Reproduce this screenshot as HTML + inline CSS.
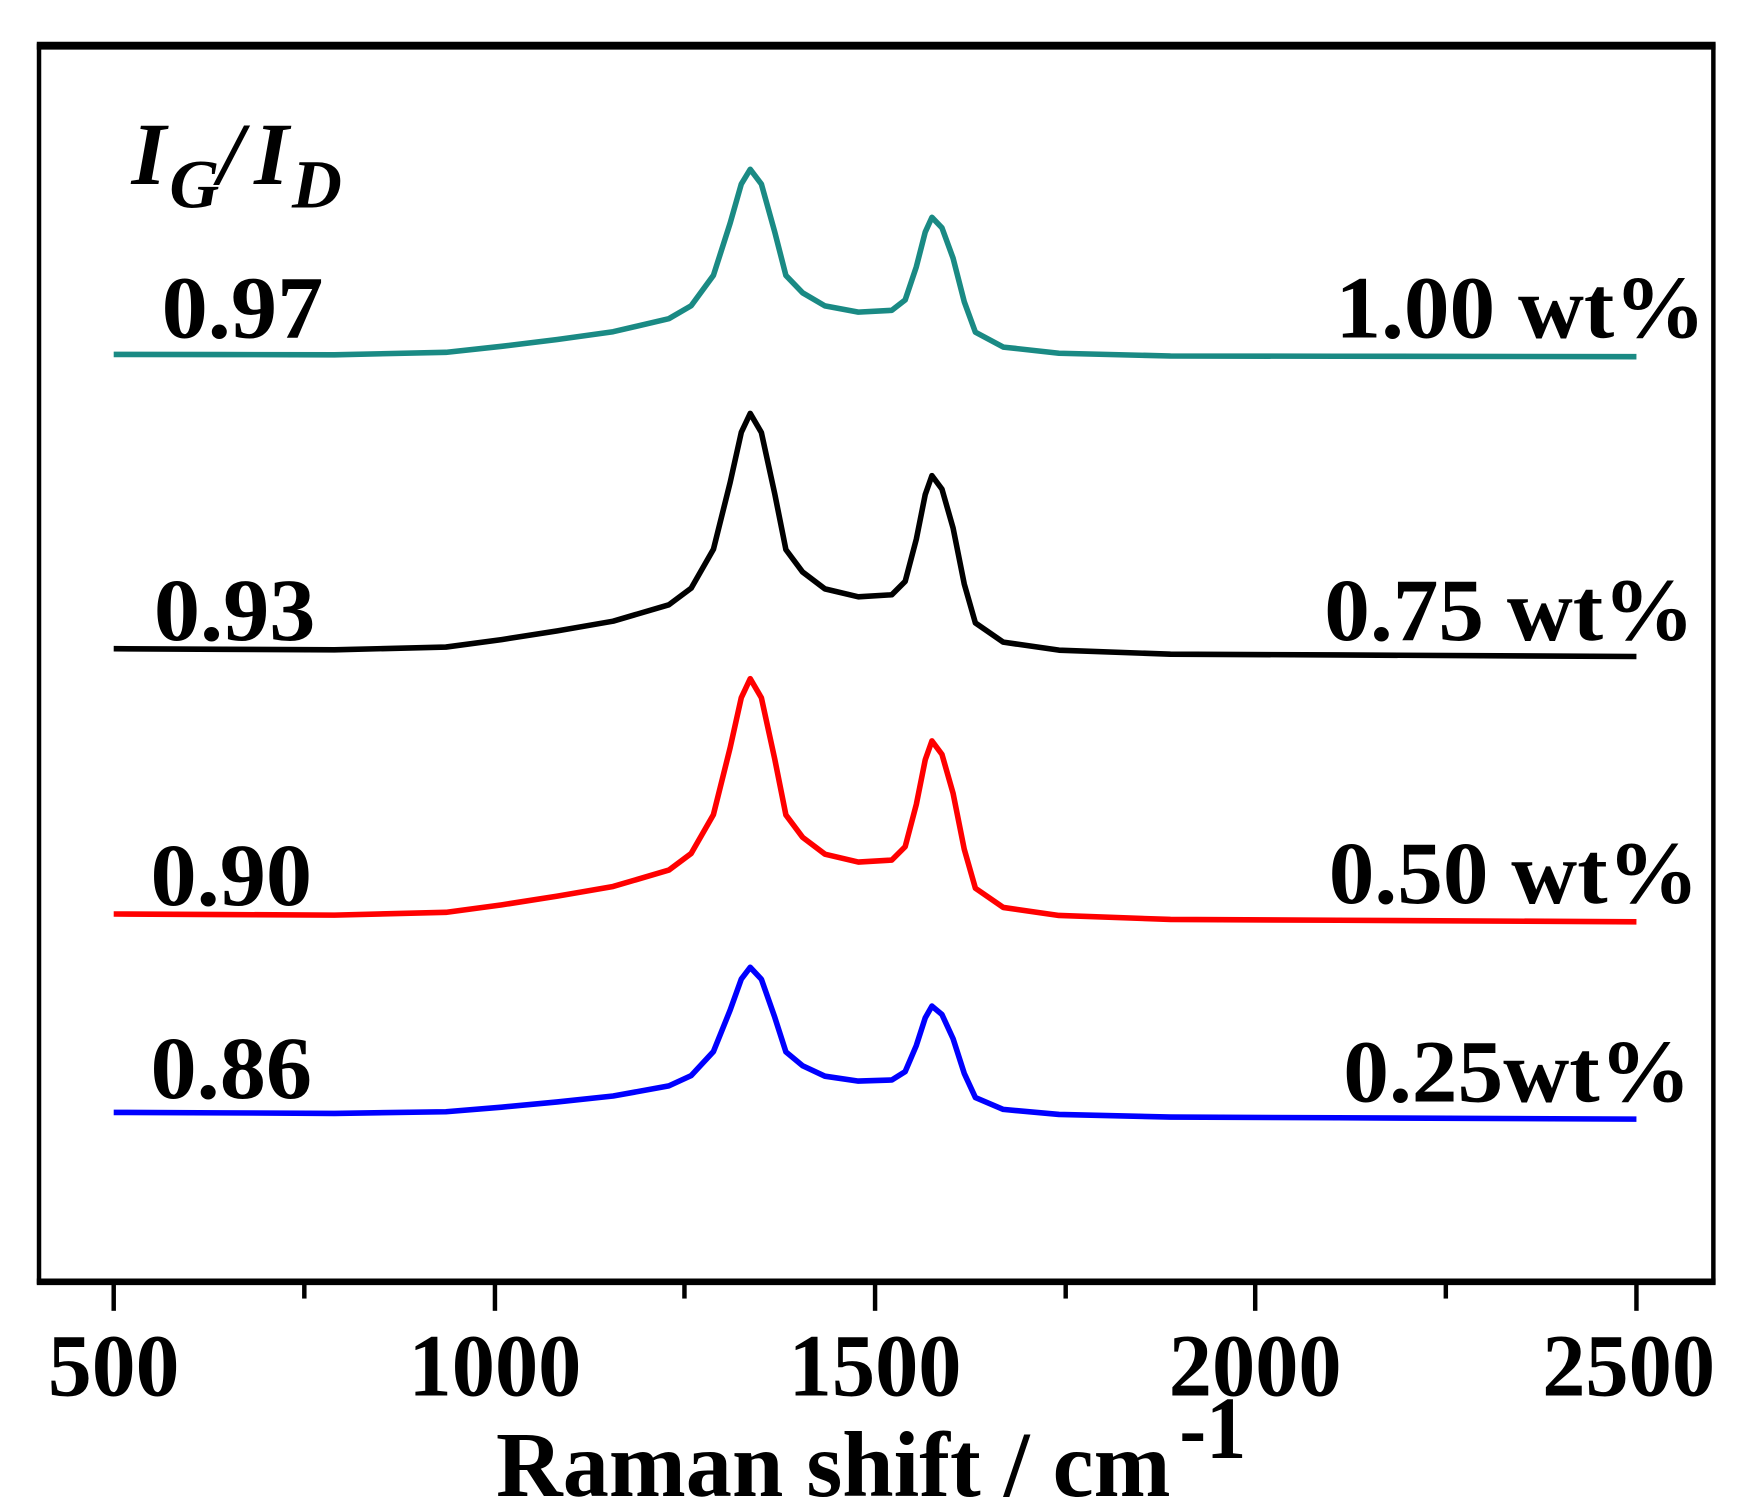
<!DOCTYPE html>
<html><head><style>html,body{margin:0;padding:0;background:#fff}svg{display:block}</style></head>
<body>
<svg width="1739" height="1507" viewBox="0 0 1560 1352" preserveAspectRatio="none" xmlns="http://www.w3.org/2000/svg" font-family="Liberation Serif, serif" font-weight="bold">
<rect x="0" y="0" width="1560" height="1352" fill="#fff"/>
<rect x="35" y="41" width="1502" height="1109" fill="none" stroke="#000" stroke-width="4"/>
<line x1="33" y1="41" x2="1539" y2="41" stroke="#000" stroke-width="7"/>
<line x1="33" y1="1150" x2="1539" y2="1150" stroke="#000" stroke-width="6"/>
<g stroke="#000" stroke-width="4">
<line x1="102" y1="1150" x2="102" y2="1176"/><line x1="273" y1="1150" x2="273" y2="1165"/>
<line x1="444" y1="1150" x2="444" y2="1176"/><line x1="614" y1="1150" x2="614" y2="1165"/>
<line x1="785" y1="1150" x2="785" y2="1176"/><line x1="956" y1="1150" x2="956" y2="1165"/>
<line x1="1126" y1="1150" x2="1126" y2="1176"/><line x1="1297" y1="1150" x2="1297" y2="1165"/>
<line x1="1468" y1="1150" x2="1468" y2="1176"/>
</g>
<g font-size="80" text-anchor="middle">
<text x="102" y="1252" textLength="118" lengthAdjust="spacingAndGlyphs">500</text>
<text x="444" y="1252" textLength="155" lengthAdjust="spacingAndGlyphs">1000</text>
<text x="785" y="1252" textLength="155" lengthAdjust="spacingAndGlyphs">1500</text>
<text x="1126" y="1252" textLength="155" lengthAdjust="spacingAndGlyphs">2000</text>
<text x="1461" y="1252" textLength="155" lengthAdjust="spacingAndGlyphs">2500</text>
</g>
<text x="445" y="1342" font-size="84" textLength="605" lengthAdjust="spacingAndGlyphs">Raman shift / cm</text>
<text x="1058" y="1308" font-size="80" textLength="60" lengthAdjust="spacingAndGlyphs">-1</text>
<g font-style="italic">
<text x="118" y="165" font-size="80">I</text>
<text x="152" y="186" font-size="62">G</text>
<text x="196" y="165" font-size="80">/</text>
<text x="228" y="165" font-size="80">I</text>
<text x="262" y="186" font-size="62">D</text>
</g>
<g font-size="80">
<text x="145" y="303" textLength="145" lengthAdjust="spacingAndGlyphs">0.97</text>
<text x="1198" y="303" textLength="332" lengthAdjust="spacingAndGlyphs">1.00 wt%</text>
<text x="138" y="574" textLength="145" lengthAdjust="spacingAndGlyphs">0.93</text>
<text x="1188" y="574" textLength="332" lengthAdjust="spacingAndGlyphs">0.75 wt%</text>
<text x="135" y="812" textLength="145" lengthAdjust="spacingAndGlyphs">0.90</text>
<text x="1192" y="810" textLength="332" lengthAdjust="spacingAndGlyphs">0.50 wt%</text>
<text x="135" y="985" textLength="145" lengthAdjust="spacingAndGlyphs">0.86</text>
<text x="1205" y="988" textLength="312" lengthAdjust="spacingAndGlyphs">0.25wt%</text>
</g>
<g fill="none" stroke-width="5" stroke-linejoin="round">
<polyline stroke="#1a8a84" points="102,318 200,318.1 300,318.3 400,316.1 450,310.7 500,304.6 550,297.6 600,285.9 620,274.3 640,247 655,200.2 665,165.1 673,151.9 683,165.1 695,208.1 705,247.1 720,262.7 740,274.4 770,280 800,278.4 812,269.1 822,239.4 830,208.2 836,195 845,204.4 855,231.7 865,270.7 875,298 900,311.4 950,316.9 1050,319.4 1200,319.6 1468,320"/>
<polyline stroke="#000" points="102,582 200,582.5 300,583 400,580.5 450,573.8 500,566 550,557.3 600,542.6 620,527.7 640,492.8 655,432.8 665,387.9 673,370.9 683,388 695,443 705,493.1 720,513.2 740,528.3 770,535.4 800,533.6 812,521.6 822,483.7 830,443.7 836,426.7 845,438.8 855,473.8 865,523.9 875,558.9 900,576.1 950,583.3 1050,586.9 1200,587.6 1468,589"/>
<polyline stroke="#f00" transform="translate(0,238)" points="102,582 200,582.5 300,583 400,580.5 450,573.8 500,566 550,557.3 600,542.6 620,527.7 640,492.8 655,432.8 665,387.9 673,370.9 683,388 695,443 705,493.1 720,513.2 740,528.3 770,535.4 800,533.6 812,521.6 822,483.7 830,443.7 836,426.7 845,438.8 855,473.8 865,523.9 875,558.9 900,576.1 950,583.3 1050,586.9 1200,587.6 1468,589"/>
<polyline stroke="#00f" points="102,998 200,998.4 300,998.9 400,997.4 450,993.3 500,988.6 550,983.3 600,974.2 620,965 640,943.4 655,906.2 665,878.4 673,867.8 683,878.5 695,912.6 705,943.7 720,956.1 740,965.5 770,969.9 800,968.9 812,961.4 822,938 830,913.2 836,902.6 845,910.2 855,931.9 865,963 875,984.7 900,995.3 950,999.8 1050,1002.2 1200,1002.8 1468,1004"/>
</g>
</svg>
</body></html>
